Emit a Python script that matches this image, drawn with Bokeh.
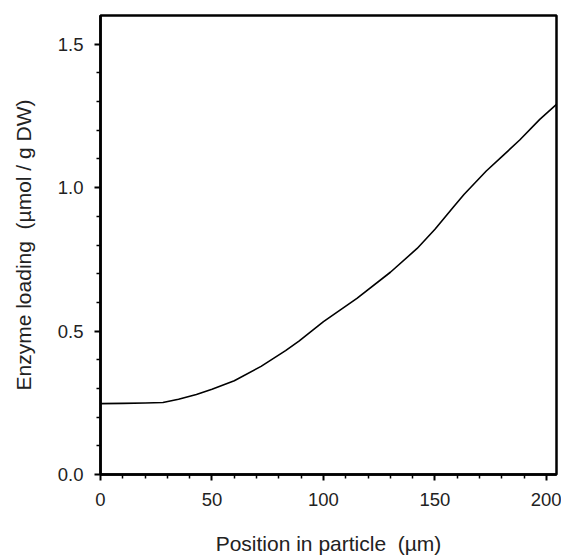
from bokeh.plotting import figure
from bokeh.models import FixedTicker, Range1d, PrintfTickFormatter
from bokeh.embed import file_html
from bokeh.resources import INLINE

# Data
position_um = [0, 10, 20, 28, 35, 43, 50, 60, 72, 83, 89, 100, 115, 130, 142, 150, 158, 163,
               173, 180, 188, 197, 204.5]
loading = [0.247, 0.248, 0.249, 0.251, 0.262, 0.279, 0.297, 0.327, 0.377, 0.432, 0.465, 0.533,
           0.614, 0.705, 0.788, 0.855, 0.93, 0.976, 1.058, 1.108, 1.166, 1.238, 1.29]

x_major = [0, 50, 100, 150, 200]
x_minor = [10, 20, 30, 40, 60, 70, 80, 90, 110, 120, 130, 140, 160, 170, 180, 190]
y_major = [0.0, 0.5, 1.0, 1.5]
y_minor = [0.1, 0.2, 0.3, 0.4, 0.6, 0.7, 0.8, 0.9, 1.1, 1.2, 1.3, 1.4]

FONT = "Liberation Sans"

p = figure(width=561, height=557, output_backend="svg", toolbar_location=None,
           x_range=Range1d(0, 204.5), y_range=Range1d(0, 1.6),
           min_border_left=100, min_border_top=15, min_border_right=5, min_border_bottom=82)

p.line(position_um, loading, line_color="black", line_width=1.6, line_join="round")

p.xgrid.visible = False
p.ygrid.visible = False
p.outline_line_color = "black"
p.outline_line_width = 2.5
p.outline_line_alpha = 1.0
p.background_fill_color = "white"
p.border_fill_color = "white"

p.xaxis.ticker = FixedTicker(ticks=x_major, minor_ticks=x_minor)
p.yaxis.ticker = FixedTicker(ticks=y_major, minor_ticks=y_minor)
p.yaxis.formatter = PrintfTickFormatter(format="%.1f")

for ax in (p.xaxis, p.yaxis):
    ax.axis_line_width = 2.5
    ax.axis_line_color = "black"
    ax.major_tick_line_width = 2
    ax.minor_tick_line_width = 1.5
    ax.major_tick_line_color = "black"
    ax.minor_tick_line_color = "black"
    ax.major_tick_in = 0
    ax.minor_tick_in = 0
    ax.major_tick_out = 6
    ax.minor_tick_out = 4
    ax.major_label_text_font = FONT
    ax.major_label_text_font_size = "18.5px"
    ax.major_label_text_color = "#222222"
    ax.axis_label_text_font = FONT
    ax.axis_label_text_font_size = "21px"
    ax.axis_label_text_font_style = "normal"
    ax.axis_label_text_color = "#222222"

p.xaxis.axis_label = "Position in particle \u00a0(µm)"
p.yaxis.axis_label = "Enzyme loading \u00a0(µmol / g DW)"
p.xaxis.major_label_standoff = 12
p.xaxis.axis_label_standoff = 23
p.yaxis.major_label_standoff = 11
p.yaxis.axis_label_standoff = 20

open("out.html", "w").write(file_html(p, INLINE))
